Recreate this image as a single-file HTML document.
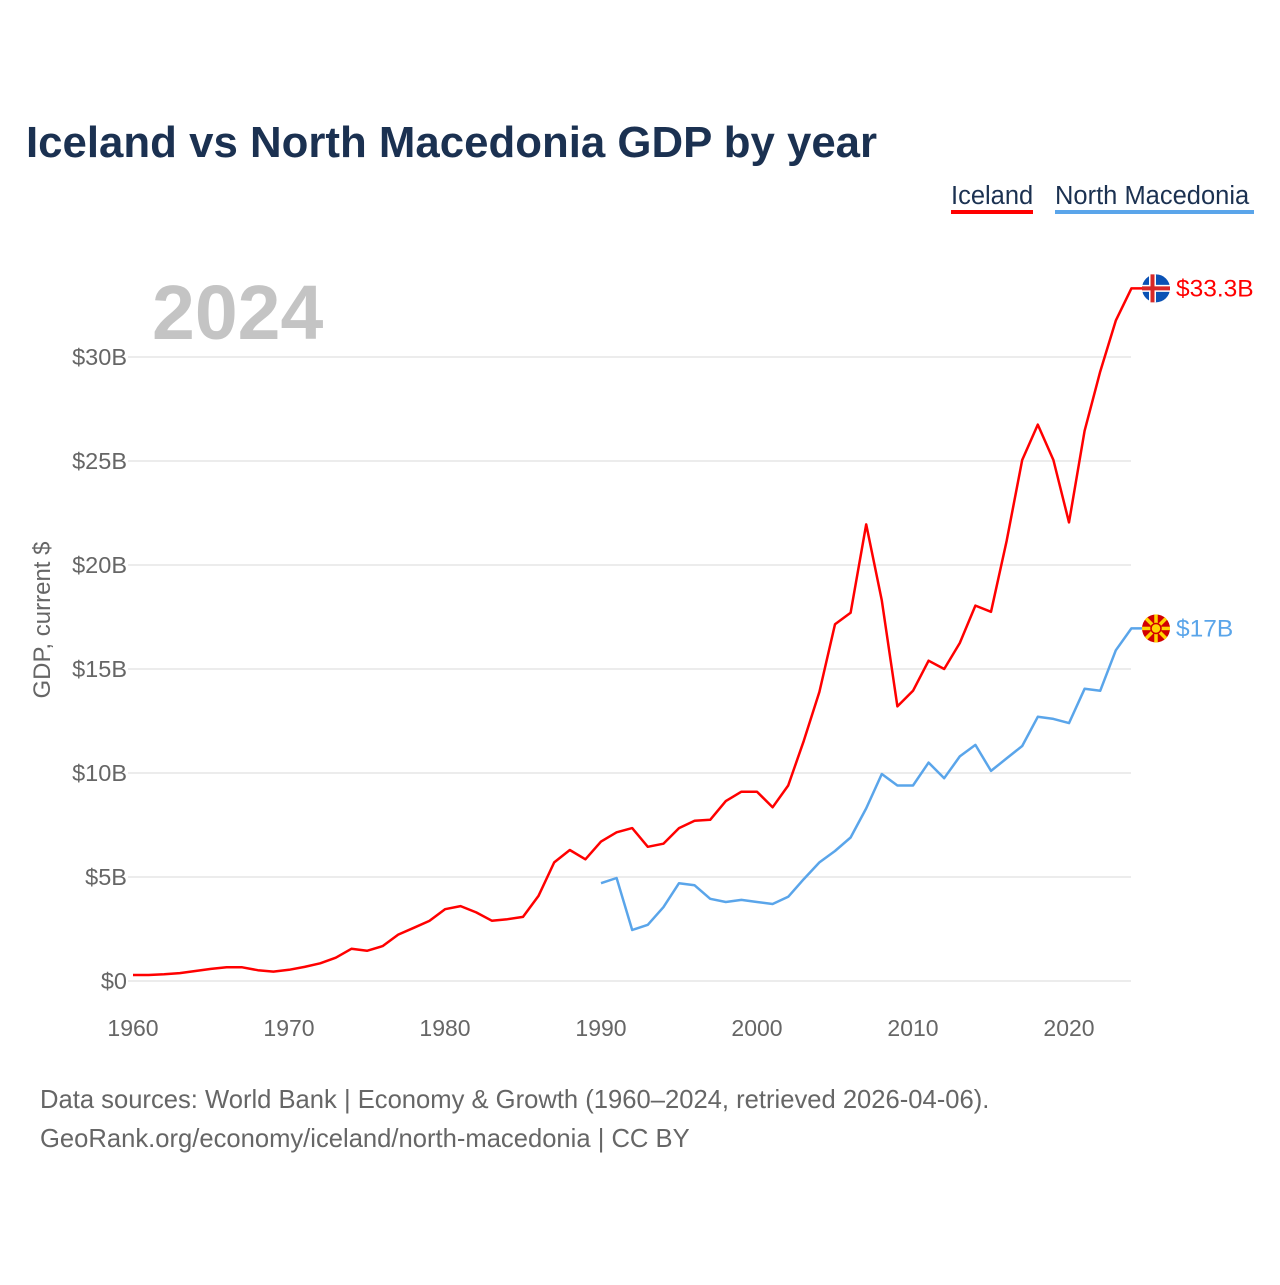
<!DOCTYPE html>
<html><head><meta charset="utf-8"><style>
body{margin:0;background:#fff;font-family:"Liberation Sans",sans-serif;}
svg text{font-family:"Liberation Sans",sans-serif;}
</style></head><body>
<svg id="chart" width="1280" height="1280" viewBox="0 0 1280 1280">
<text x="26" y="157" font-size="43.8" font-weight="bold" fill="#1b3151">Iceland vs North Macedonia GDP by year</text>
<g>
<text x="951" y="204" font-size="25.5" fill="#1b3151">Iceland</text>
<rect x="951" y="210" width="82" height="4" fill="#ff0000"/>
<text x="1055" y="204" font-size="25.5" fill="#1b3151">North Macedonia</text>
<rect x="1055" y="210" width="199" height="4" fill="#5aa5ea"/>
</g>
<text x="152" y="339" font-size="77" font-weight="bold" fill="#c4c4c4">2024</text>
<text transform="translate(50,620) rotate(-90)" text-anchor="middle" font-size="24" fill="#666">GDP, current $</text>
<g id="grid"></g><g id="xt"></g><g id="lines"></g><g id="ends"></g>
<text x="40" y="1108" font-size="25.6" fill="#666">Data sources: World Bank | Economy &amp; Growth (1960–2024, retrieved 2026-04-06).</text>
<text x="40" y="1147" font-size="25.6" fill="#666">GeoRank.org/economy/iceland/north-macedonia | CC BY</text>
</svg>
<script>
const yTicks=[0,5,10,15,20,25,30];
const yTickLabels=["$0","$5B","$10B","$15B","$20B","$25B","$30B"];
const xTicks=[1960,1970,1980,1990,2000,2010,2020];
const icelandStart=1960;
const icelandGdp=[0.29,0.29,0.32,0.38,0.48,0.58,0.66,0.66,0.52,0.45,0.54,0.68,0.85,1.12,1.55,1.45,1.68,2.23,2.56,2.89,3.45,3.6,3.3,2.9,2.97,3.08,4.1,5.7,6.3,5.85,6.7,7.15,7.35,6.45,6.6,7.35,7.7,7.75,8.65,9.1,9.1,8.35,9.4,11.55,13.9,17.15,17.7,21.95,18.3,13.2,13.95,15.4,15.0,16.25,18.05,17.75,21.15,25.05,26.75,25.05,22.05,26.45,29.3,31.75,33.3];
const nmkStart=1990;
const nmkGdp=[4.7,4.95,2.45,2.7,3.55,4.7,4.6,3.95,3.8,3.9,3.8,3.7,4.05,4.9,5.7,6.25,6.9,8.3,9.95,9.4,9.4,10.5,9.75,10.8,11.35,10.1,10.7,11.3,12.7,12.6,12.4,14.05,13.95,15.9,16.95];
const endLabels=["$33.3B","$17B"];
const NS='http://www.w3.org/2000/svg';
const X=y=>133+(y-1960)*15.6, Y=v=>981-v*20.8;
function mk(t,a,p){const e=document.createElementNS(NS,t);for(const k in a)e.setAttribute(k,a[k]);p.appendChild(e);return e;}
const g=document.getElementById('grid');
yTicks.forEach((v,i)=>{
 const l=mk('line',{x1:128,x2:1131,y1:Y(v),y2:Y(v),stroke:'#e6e6e6','stroke-width':1.5},g);
 
 
 const t=mk('text',{x:127,y:Y(v)+8,'text-anchor':'end','font-size':23.5,fill:'#666'},g);
 t.textContent=yTickLabels[i];
 
 
});
const xt=document.getElementById('xt');
xTicks.forEach(v=>{
 const t=mk('text',{x:X(v),y:1036,'text-anchor':'middle','font-size':23,fill:'#666'},xt);
 t.textContent=v;
 
 
});
const L=document.getElementById('lines'),E=document.getElementById('ends');
[[icelandGdp,icelandStart,'#ff0000','iceland'],[nmkGdp,nmkStart,'#5aa5ea','north-macedonia']].forEach(([d,s,c,n],k)=>{
 const pts=d.map((v,i)=>X(s+i).toFixed(1)+','+Y(v).toFixed(1));
 const last=d[d.length-1];
 pts.push((X(s+d.length-1)+11).toFixed(1)+','+Y(last).toFixed(1));
 const p=mk('polyline',{points:pts.join(' '),fill:'none',stroke:c,'stroke-width':2.5,'stroke-linejoin':'round'},L);
 
 
 const cy=Y(last),cx=1156;
 const fg=mk('g',{},E);
 
 
 if(k===0){
  mk('circle',{cx:cx,cy:cy,r:14,fill:'#0b52b5'},fg);
  mk('rect',{x:cx-14,y:cy-3.5,width:28,height:7,fill:'#fff'},fg);
  mk('rect',{x:cx-7,y:cy-14,width:7,height:28,fill:'#fff'},fg);
  mk('rect',{x:cx-14,y:cy-2,width:28,height:4,fill:'#d72828'},fg);
  mk('rect',{x:cx-5.5,y:cy-14,width:4,height:28,fill:'#d72828'},fg);
 }else{
  mk('circle',{cx:cx,cy:cy,r:14,fill:'#d20000'},fg);
  for(let a=0;a<8;a++){const an=a*Math.PI/4;
   mk('line',{x1:cx,y1:cy,x2:cx+14*Math.cos(an),y2:cy+14*Math.sin(an),stroke:'#ffd300','stroke-width':3.5},fg);}
  mk('circle',{cx:cx,cy:cy,r:5,fill:'#ffd300',stroke:'#d20000','stroke-width':1.5},fg);
 }
 const t=mk('text',{x:1176,y:cy+8,'font-size':24.5,fill:c},E);
 t.textContent=endLabels[k];
 
 
});
</script>
</body></html>
